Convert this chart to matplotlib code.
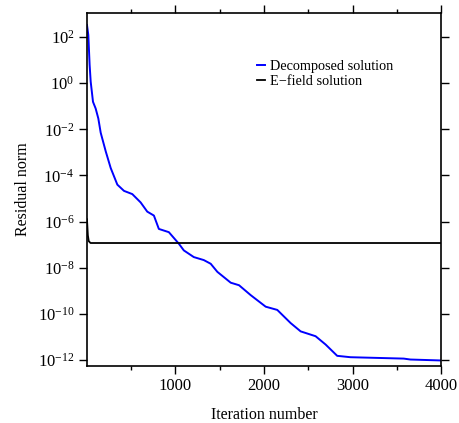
import numpy as np
import matplotlib.pyplot as plt
from matplotlib.ticker import FixedLocator, NullLocator

plt.rcParams['font.family'] = ['Liberation Serif', 'DejaVu Serif']
plt.rcParams['mathtext.fontset'] = 'stix'

# Decomposed solution: iteration, log10 residual
dec_iter = [0, 15, 30, 42, 68, 98, 128, 155, 212, 268, 343, 418, 512, 606, 681,
            756, 812, 925, 1038, 1094, 1207, 1320, 1398, 1473, 1624, 1718, 1850,
            2019, 2150, 2301, 2414, 2583, 2696, 2827, 2977, 3579, 3654, 3992]
dec_log = [2.52, 2.09, 0.78, 0.06, -0.81, -1.1, -1.53, -2.15, -2.96, -3.68, -4.4,
           -4.67, -4.81, -5.17, -5.57, -5.74, -6.32, -6.46, -6.96, -7.25, -7.54,
           -7.67, -7.83, -8.18, -8.65, -8.76, -9.19, -9.69, -9.83, -10.4, -10.76,
           -10.97, -11.33, -11.82, -11.88, -11.94, -11.98, -12.02]

# E-field solution
ef_iter = [0, 10, 20, 40, 100, 4000]
ef_log = [-5.9, -6.6, -6.85, -6.93, -6.93, -6.93]

fig = plt.figure(figsize=(4.59, 4.23), dpi=100)
ax = fig.add_axes([0.1895, 0.1348, 0.7713, 0.8345])

ax.semilogy(dec_iter, 10.0 ** np.array(dec_log), color='#0000ff', lw=1.4,
            label='Decomposed solution')
ax.semilogy(ef_iter, 10.0 ** np.array(ef_log), color='black', lw=1.3,
            label='E\u2212field solution')

ax.set_xlim(0, 4000)
ax.set_ylim(10 ** -12.26, 10 ** 3.04)

ax.xaxis.set_major_locator(FixedLocator([1000, 2000, 3000, 4000]))
ax.xaxis.set_minor_locator(FixedLocator([500, 1500, 2500, 3500]))
ax.yaxis.set_major_locator(FixedLocator([10.0 ** k for k in range(-12, 3, 2)]))
ax.yaxis.set_minor_locator(NullLocator())

ax.tick_params(which='both', direction='out', top=True, right=True,
               labelsize=12, width=1.0)
ax.tick_params(which='major', length=5.5)
ax.tick_params(which='minor', length=3)
for s in ax.spines.values():
    s.set_linewidth(1.2)

ax.set_xlabel('Iteration number', fontsize=11.5, labelpad=9)
ax.set_ylabel('Residual norm', fontsize=11.5, labelpad=5)

ax.legend(loc='upper left', bbox_to_anchor=(0.48, 0.867), frameon=False,
          fontsize=10.3, handlelength=0.6, handletextpad=0.3, labelspacing=0.15,
          borderaxespad=0, borderpad=0)

fig.savefig('out.png', dpi=100)
